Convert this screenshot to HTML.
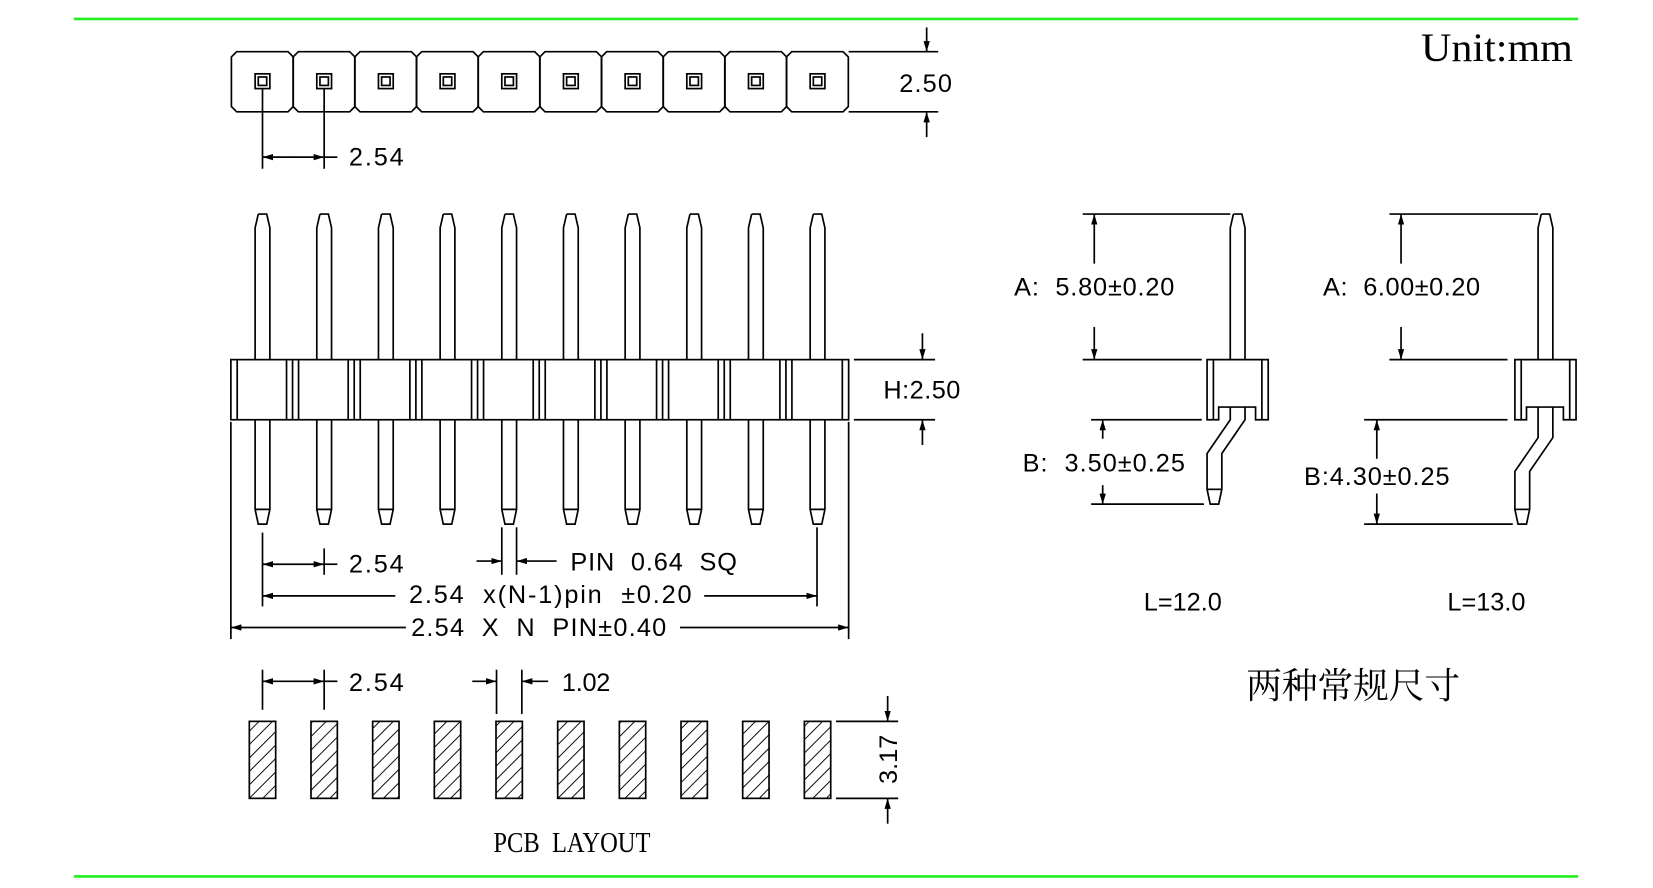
<!DOCTYPE html>
<html><head><meta charset="utf-8"><style>
html,body{margin:0;padding:0;background:#fff;width:1653px;height:888px;overflow:hidden}
svg{display:block}
text{font-family:"Liberation Sans",sans-serif;fill:#000}
.d{font-size:24px}
</style></head><body>
<svg id="s" width="1653" height="888" viewBox="0 0 1568 842" preserveAspectRatio="none" xmlns="http://www.w3.org/2000/svg">
<defs>
<marker id="a" viewBox="0 0 10 6" refX="10" refY="3" markerWidth="10" markerHeight="6" markerUnits="userSpaceOnUse" orient="auto"><path d="M0,0L10,3L0,6Z" fill="#000"/></marker>
<pattern id="h" width="9" height="9" patternUnits="userSpaceOnUse" patternTransform="rotate(45)"><line x1="0" y1="0" x2="0" y2="9" stroke="#000" stroke-width="1.8"/></pattern>
</defs>
<g id="g" fill="none" stroke="#000" stroke-width="1.6"></g>
<line x1="70" y1="18" x2="1497" y2="18" stroke="#22ee22" stroke-width="2.5"/>
<line x1="70" y1="831" x2="1497" y2="831" stroke="#22ee22" stroke-width="2.5"/>
<text x="1348" y="58" style="font-family:'Liberation Serif',serif;font-size:38px" textLength="144" lengthAdjust="spacingAndGlyphs">Unit:mm</text>
<text class="d" x="853" y="87" textLength="50">2.50</text>
<text class="d" x="331" y="157" textLength="52">2.54</text>
<text class="d" x="838" y="378" textLength="73">H:2.50</text>
<text class="d" x="331" y="543" textLength="52">2.54</text>
<text class="d" x="541" y="541" textLength="158">PIN&#160;&#160;0.64&#160;&#160;SQ</text>
<text class="d" x="388" y="572" textLength="268">2.54&#160;&#160;x(N-1)pin&#160;&#160;±0.20</text>
<text class="d" x="390" y="603" textLength="242">2.54&#160;&#160;X&#160;&#160;N&#160;&#160;PIN±0.40</text>
<text class="d" x="331" y="655" textLength="52">2.54</text>
<text class="d" x="533" y="655" textLength="46">1.02</text>
<text class="d" transform="translate(851,720) rotate(-90)" text-anchor="middle">3.17</text>
<text x="468" y="808" style="font-family:'Liberation Serif',serif;font-size:27px" textLength="149" lengthAdjust="spacingAndGlyphs">PCB&#160;&#160;LAYOUT</text>
<text class="d" x="962" y="280" textLength="152">A:&#160;&#160;5.80±0.20</text>
<text class="d" x="970" y="447" textLength="154">B:&#160;&#160;3.50±0.25</text>
<text class="d" x="1255" y="280" textLength="149">A:&#160;&#160;6.00±0.20</text>
<text class="d" x="1237" y="460" textLength="138">B:4.30±0.25</text>
<text class="d" x="1085" y="579" textLength="74">L=12.0</text>
<text class="d" x="1373" y="579" textLength="74">L=13.0</text>
<text x="1182" y="662" style="font-family:'Liberation Serif','Noto Serif CJK SC',serif;font-size:34px" textLength="203">两种常规尺寸</text>
</svg>
<script>
var g=document.getElementById('g'),NS='http://www.w3.org/2000/svg';
function el(t,a){var e=document.createElementNS(NS,t);for(var k in a)e.setAttribute(k,a[k]);g.appendChild(e);return e;}
function L(x1,y1,x2,y2){el('line',{x1:x1,y1:y1,x2:x2,y2:y2});}
function A(x1,y1,x2,y2){el('line',{x1:x1,y1:y1,x2:x2,y2:y2,'marker-end':'url(#a)'});}
function P(d,f){el('path',{d:d,fill:f||'none'});}
var p=58.5;
for(var i=0;i<10;i++){
 var c=249+i*p,l=c-29.5,r=c+29.2;
 P('M'+(l+5)+',49H'+(r-5)+'L'+r+',54V101L'+(r-5)+',106H'+(l+5)+'L'+l+',101V54Z');
 el('rect',{x:c-7,y:70,width:14,height:14});
 el('rect',{x:c-4,y:73,width:8,height:8});
 P('M'+(c-4)+',203H'+(c+4)+'L'+(c+7)+',216V341M'+(c-4)+',203L'+(c-7)+',216V341');
 P('M'+(c-7)+',398V483L'+(c-4)+',497H'+(c+4)+'L'+(c+7)+',483V398M'+(c-7)+',483H'+(c+7));
 el('rect',{x:c-12.5,y:684,width:25,height:73,fill:'url(#h)'});
}
el('rect',{x:219,y:341,width:586,height:57});
L(225,341,225,398);L(799,341,799,398);
for(var k=1;k<10;k++){var b=219+k*p;L(b-5.7,341,b-5.7,398);L(b,341,b,398);L(b+5.7,341,b+5.7,398);}
L(805,49,890,49);L(805,106,890,106);A(879,26,879,49);A(879,130,879,106);
L(249,84,249,160);L(307.5,84,307.5,160);A(278,149,249,149);A(278,149,307.5,149);L(307.5,149,320,149);
L(810,341,887,341);L(810,398,887,398);A(875,316,875,341);A(875,422,875,398);
L(249,505,249,575);L(775,500,775,575);L(219,400,219,606);L(805,400,805,606);
A(278,535,249,535);A(278,535,307.5,535);L(307.5,520,307.5,545);L(307.5,535,320,535);
L(476,500,476,545);L(490,500,490,545);A(452,532,476,532);A(528,532,490,532);
A(375,565,249,565);A(668,565,775,565);
A(385,595,219,595);A(645,595,805,595);
L(249,635,249,673);L(307.5,635,307.5,673);A(278,646,249,646);A(278,646,307.5,646);L(307.5,646,320,646);
L(471,635,471,677);L(495,635,495,677);A(448,646,471,646);A(520,646,495,646);
L(793,684,852,684);L(793,757,852,757);A(842,660,842,684);A(842,781,842,757);
function side(c,bend,end,dx){
 var l=c-29,r=c+29;
 P('M'+(c-4)+',203H'+(c+4)+'L'+(c+7)+',216V341M'+(c-4)+',203L'+(c-7)+',216V341');
 P('M'+l+',341H'+r+'V398H'+(c+17)+'V386H'+(c-18)+'V398H'+l+'Z');
 L(l+6,341,l+6,398);L(r-6,341,r-6,398);
 var y0=386;
 P('M'+(c-7)+','+y0+'V'+bend+'L'+(c-7-dx)+','+(bend+32)+'V'+(end-14)+'L'+(c-4-dx)+','+end+'H'+(c+4-dx)+'L'+(c+7-dx)+','+(end-14)+'V'+(bend+32)+'L'+(c+7)+','+bend+'V'+y0);
 L(c-7-dx,end-14,c+7-dx,end-14);
}
side(1174,398,478,22);side(1466,415,497,22);
L(1027,203,1167,203);L(1027,341,1140,341);A(1038,250,1038,203);A(1038,310,1038,341);
L(1035,398,1140,398);L(1035,478,1142,478);A(1046,416,1046,398);A(1046,460,1046,478);
L(1318,203,1459,203);L(1318,341,1430,341);A(1329,250,1329,203);A(1329,310,1329,341);
L(1294,398,1430,398);L(1294,497,1435,497);A(1306,435,1306,398);A(1306,468,1306,497);
</script>
</body></html>
